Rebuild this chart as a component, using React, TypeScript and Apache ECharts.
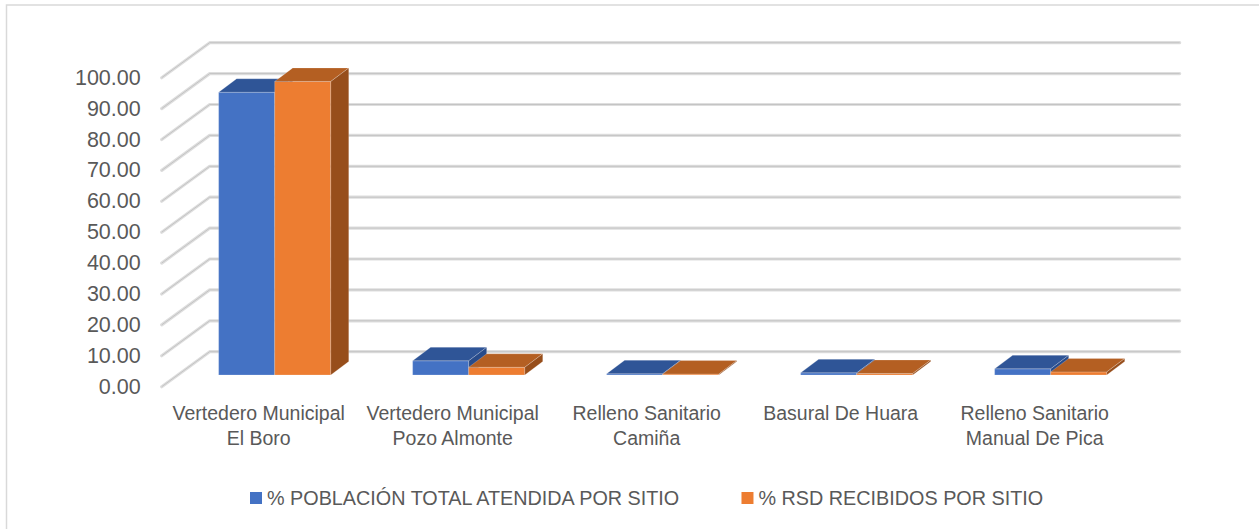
import React, { useEffect, useRef } from "react";
import * as echarts from "echarts";

const categories = [
  "Vertedero Municipal\nEl Boro",
  "Vertedero Municipal\nPozo Almonte",
  "Relleno Sanitario\nCamiña",
  "Basural De Huara",
  "Relleno Sanitario\nManual De Pica",
];
const seriesNames = ["% POBLACIÓN TOTAL ATENDIDA POR SITIO", "% RSD RECIBIDOS POR SITIO"];
const poblacion = [91.5, 4.6, 0.4, 0.7, 2.0];
const rsd = [95.0, 2.5, 0.3, 0.5, 1.0];
const yTicks = [0, 10, 20, 30, 40, 50, 60, 70, 80, 90, 100];

const FONT = "'Liberation Sans', Arial, sans-serif";
const DEPTH = [48, -35];
const BAR_OFF = [16, -11.7];
const BAR_DEPTH = [18, -13.5];
const BAR_FRAC = 0.289;

const palettes = [
  { front: "#4472C4", top: "#2F5597", side: "#284B8A" },
  { front: "#ED7D31", top: "#B45F22", side: "#974E1B" },
];

function makeBarRender(seriesIdx: number) {
  const pal = palettes[seriesIdx];
  return (params: any, api: any) => {
    const cat = api.value(0);
    const val = api.value(1);
    const top = api.coord([cat, val]);
    const base = api.coord([cat, 0]);
    const bandW = api.size([1, 0])[0];
    const w = bandW * BAR_FRAC;
    const x0 = base[0] - w + seriesIdx * w + BAR_OFF[0];
    const x1 = x0 + w;
    const yb = base[1] + BAR_OFF[1];
    const yt = top[1] + BAR_OFF[1];
    const dx = BAR_DEPTH[0];
    const dy = BAR_DEPTH[1];
    return {
      type: "group",
      children: [
        {
          type: "polygon",
          shape: { points: [[x0, yb], [x1, yb], [x1, yt], [x0, yt]] },
          style: { fill: pal.front, stroke: "rgba(255,255,255,0.35)", lineWidth: 0.6 },
        },
        {
          type: "polygon",
          shape: { points: [[x0, yt], [x1, yt], [x1 + dx, yt + dy], [x0 + dx, yt + dy]] },
          style: { fill: pal.top, stroke: "rgba(255,255,255,0.35)", lineWidth: 0.6 },
        },
        {
          type: "polygon",
          shape: { points: [[x1, yb], [x1 + dx, yb + dy], [x1 + dx, yt + dy], [x1, yt]] },
          style: { fill: pal.side, stroke: "rgba(255,255,255,0.35)", lineWidth: 0.6 },
        },
      ],
    };
  };
}

export default function App() {
  const ref = useRef<HTMLDivElement>(null);
  useEffect(() => {
    if (!ref.current) return;
    const chart = echarts.init(ref.current, null, { renderer: "svg" });
    const option: any = {
      animation: false,
      backgroundColor: "#ffffff",
      grid: { left: 161.7, right: 127.3, top: 77.7, bottom: 142.3 },
      graphic: [
        {
          type: "rect",
          shape: { x: 6.5, y: 5, width: 1300, height: 600 },
          style: { fill: "none", stroke: "#d9d9d9", lineWidth: 1.5 },
          silent: true,
        },
      ],
      legend: {
        data: seriesNames,
        left: 245,
        top: 483,
        icon: "rect",
        itemWidth: 12,
        itemHeight: 12,
        itemGap: 59,
        textStyle: { fontFamily: FONT, fontSize: 19.8, color: "#595959" },
      },
      xAxis: {
        type: "category",
        data: categories,
        axisLine: { show: false },
        axisTick: { show: false },
        splitLine: { show: false },
        axisLabel: {
          interval: 0,
          margin: 14,
          fontFamily: FONT,
          fontSize: 19.5,
          lineHeight: 25,
          color: "#595959",
          align: "center",
        },
      },
      yAxis: {
        type: "value",
        min: 0,
        max: 100,
        interval: 10,
        axisLine: { show: false },
        axisTick: { show: false },
        splitLine: { show: false },
        axisLabel: {
          margin: 21,
          fontFamily: FONT,
          fontSize: 21.5,
          color: "#595959",
          formatter: (v: number) => v.toFixed(2),
        },
      },
      series: [
        {
          type: "custom",
          silent: true,
          z: 1,
          data: yTicks.map((v) => [0, v]),
          renderItem: (params: any, api: any) => {
            const cs = params.coordSys;
            const y = api.coord([0, api.value(1)])[1];
            const xl = cs.x;
            const xr = cs.x + cs.width;
            const pts = [
              [xl, y],
              [xl + DEPTH[0], y + DEPTH[1]],
              [xr + DEPTH[0], y + DEPTH[1]],
            ];
            return {
              type: "group",
              children: [
                { type: "polyline", shape: { points: pts }, style: { stroke: "#dedede", lineWidth: 3.2, fill: "none", lineCap: "round", lineJoin: "round" } },
                { type: "polyline", shape: { points: pts }, style: { stroke: "#c4c4c4", lineWidth: 1, fill: "none" } },
              ],
            };
          },
        },
        {
          name: seriesNames[0],
          type: "custom",
          z: 3,
          itemStyle: { color: palettes[0].front },
          data: poblacion.map((v, i) => [i, v]),
          renderItem: makeBarRender(0),
        },
        {
          name: seriesNames[1],
          type: "custom",
          z: 4,
          itemStyle: { color: palettes[1].front },
          data: rsd.map((v, i) => [i, v]),
          renderItem: makeBarRender(1),
        },
      ],
    };
    chart.setOption(option);
    return () => chart.dispose();
  }, []);
  return (
    <div
      ref={ref}
      style={{ position: "absolute", left: 0, top: 0, width: 1259, height: 529 }}
    />
  );
}
